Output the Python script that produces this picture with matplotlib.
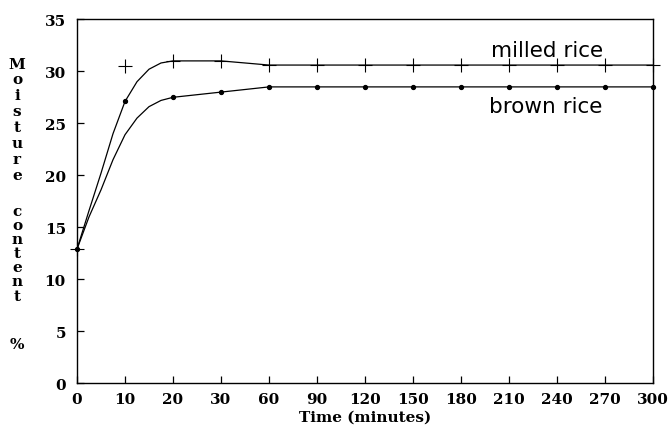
import numpy as np
import matplotlib
matplotlib.use("Agg")
import matplotlib.pyplot as plt

# ---- data ----
time_ticks = [0, 10, 20, 30, 60, 90, 120, 150, 180, 210, 240, 270, 300]
milled_vals = [12.9, 30.5, 31.0, 31.0, 30.6, 30.6, 30.6, 30.6, 30.6, 30.6, 30.6, 30.6, 30.6]
brown_vals = [12.9, 27.1, 27.5, 28.0, 28.5, 28.5, 28.5, 28.5, 28.5, 28.5, 28.5, 28.5, 28.5]

# fitted curves (minutes, value)
fit_t = [0, 2.5, 5, 7.5, 10, 12.5, 15, 17.5, 20, 30, 60, 90, 120, 150, 180, 210, 240, 270, 300]
milled_fit = [12.9, 16.6, 20.2, 24.0, 27.1, 29.0, 30.2, 30.8, 31.0, 31.0, 30.6, 30.6, 30.6,
              30.6, 30.6, 30.6, 30.6, 30.6, 30.6]
brown_fit = [12.9, 16.0, 18.6, 21.5, 23.9, 25.5, 26.6, 27.2, 27.5, 28.0, 28.5, 28.5, 28.5,
             28.5, 28.5, 28.5, 28.5, 28.5, 28.5]

y_ticks = [0, 5, 10, 15, 20, 25, 30, 35]
ylabel_letters = ["M", "o", "i", "s", "t", "u", "r", "e",
                  "c", "o", "n", "t", "e", "n", "t", "%"]

W, H = 669, 431
fig = plt.figure(figsize=(W / 100, H / 100), dpi=100)
ax = fig.add_axes([77 / W, 1 - 384.3 / H, (653 - 77) / W, (384.3 - 20.3) / H])


def pos(t):
    # the time axis is spaced by category (0-30 step 10, then step 30)
    return np.interp(t, time_ticks, np.arange(len(time_ticks)))


ax.plot(pos(np.array(fit_t)), milled_fit, color="black", lw=0.9)
ax.plot(pos(np.array(fit_t)), brown_fit, color="black", lw=0.9)
ax.plot(pos(np.array(time_ticks)), milled_vals, ls="none", marker="+", ms=9.5,
        mew=0.8, color="black", clip_on=False)
ax.plot(pos(np.array(time_ticks)), brown_vals, ls="none", marker="o", ms=2.8,
        color="black", clip_on=False)

ax.set_xlim(0, len(time_ticks) - 1)
ax.set_ylim(0, 35)
ax.set_xticks(np.arange(len(time_ticks)))
ax.set_xticklabels([str(t) for t in time_ticks])
ax.set_yticks(y_ticks)
ax.set_yticklabels([str(v) for v in y_ticks])

for lab in ax.get_xticklabels() + ax.get_yticklabels():
    lab.set_fontfamily("DejaVu Serif")
    lab.set_fontweight("bold")
    lab.set_fontsize(11)
ax.tick_params(direction="in", length=5, width=0.9, top=False, right=False)
ax.tick_params(axis="y", pad=8)
ax.tick_params(axis="x", pad=6)
for sp in ax.spines.values():
    sp.set_linewidth(1.0)

ax.set_xlabel("Time (minutes)", fontfamily="DejaVu Serif", fontweight="bold",
              fontsize=11, labelpad=3)

ax.text(0.719, 0.898, "milled rice", transform=ax.transAxes,
        fontfamily="DejaVu Sans", fontsize=15.5, ha="left", va="baseline")
ax.text(0.715, 0.7445, "brown rice", transform=ax.transAxes,
        fontfamily="DejaVu Sans", fontsize=15.5, ha="left", va="baseline")

# stacked vertical y label
y_px = [65, 80, 96, 112, 128, 144, 160, 176, 212, 226, 240, 254, 268, 282, 297, 345]
for ch, yp in zip(ylabel_letters, y_px):
    fig.text(17 / W, 1 - yp / H, ch, fontfamily="DejaVu Serif", fontweight="bold",
             fontsize=11, ha="center", va="center")

fig.savefig("out.png", dpi=100)
